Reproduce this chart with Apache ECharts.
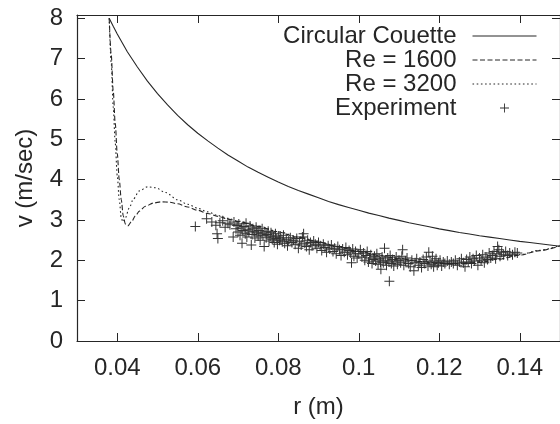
<!DOCTYPE html>
<html>
<head>
<meta charset="utf-8">
<script src="https://cdn.jsdelivr.net/npm/echarts@6/dist/echarts.min.js"></script>
<style>html,body{margin:0;padding:0;background:#fff}#c{width:560px;height:424px}</style>
</head>
<body>
<div id="c"></div>
<script>
// ---- data ----
var xTicks = [0.04, 0.06, 0.08, 0.1, 0.12, 0.14];
var yTicks = [0, 1, 2, 3, 4, 5, 6, 7, 8];

var rCouette = [0.038,0.039,0.040,0.0425,0.045,0.0475,0.05,0.0525,0.055,0.0575,0.06,0.0625,0.065,0.0675,0.07,0.0725,0.075,0.0775,0.08,0.0825,0.085,0.0875,0.09,0.0925,0.095,0.0975,0.1,0.1025,0.105,0.1075,0.11,0.1125,0.115,0.1175,0.12,0.1225,0.125,0.1275,0.13,0.1325,0.135,0.1375,0.14,0.1425,0.145,0.1475,0.15];
var vCouette = [8.00,7.80,7.61,7.17,6.79,6.44,6.13,5.85,5.59,5.36,5.15,4.96,4.78,4.61,4.46,4.31,4.18,4.06,3.94,3.83,3.73,3.64,3.55,3.46,3.38,3.31,3.24,3.17,3.11,3.045,2.99,2.93,2.88,2.83,2.78,2.735,2.69,2.65,2.61,2.575,2.54,2.505,2.47,2.44,2.41,2.38,2.35];

var r1600 = [0.038,0.0385,0.039,0.0395,0.040,0.0405,0.041,0.0415,0.042,0.0426,0.0435,0.0445,0.0455,0.047,0.049,0.051,0.053,0.055,0.0575,0.06,0.0625,0.065,0.0675,0.07,0.075,0.08,0.085,0.09,0.095,0.1,0.105,0.11,0.115,0.12,0.125,0.13,0.135,0.14,0.145,0.15];
var v1600 = [8.0,7.1,6.2,5.4,4.65,4.0,3.5,3.1,2.9,2.85,2.95,3.1,3.22,3.34,3.42,3.45,3.44,3.4,3.32,3.24,3.16,3.09,3.02,2.96,2.84,2.7,2.57,2.45,2.33,2.22,2.12,2.04,1.97,1.92,1.91,1.95,2.03,2.13,2.24,2.36];

var r3200 = [0.038,0.0385,0.039,0.0395,0.040,0.0405,0.041,0.0414,0.042,0.043,0.044,0.0455,0.0475,0.0495,0.052,0.055,0.0575,0.06,0.0625,0.065,0.0675,0.07,0.075,0.08,0.085,0.09,0.095,0.1,0.105,0.11,0.115,0.12,0.125,0.13,0.135,0.14,0.145,0.15];
var v3200 = [8.0,6.9,5.8,4.9,4.1,3.5,3.05,2.95,3.05,3.3,3.52,3.72,3.82,3.8,3.68,3.5,3.39,3.29,3.2,3.11,3.04,2.97,2.85,2.71,2.58,2.46,2.34,2.23,2.13,2.05,1.98,1.93,1.92,1.96,2.04,2.14,2.25,2.37];

var expR = [0.0594,0.0622,0.0635,0.0645,0.0648,0.0650,0.0655,0.0662,0.0668,0.0675,0.0680,0.0688,0.0690,0.0695,0.0698,
0.0700,0.0702,0.0705,0.0708,0.0710,0.0712,0.0715,0.0718,0.0720,0.0722,0.0725,0.0727,0.0730,0.0733,0.0735,0.0737,0.0740,0.0742,0.0745,0.0747,0.0750,0.0752,0.0755,0.0757,0.0760,0.0762,0.0765,0.0767,0.0770,0.0772,0.0775,0.0777,0.0780,0.0782,0.0785,0.0788,0.0790,0.0793,0.0795,0.0798,0.0800,0.0803,0.0806,0.0810,0.0813,0.0816,0.0820,0.0823,0.0826,
0.0830,0.0834,0.0838,0.0842,0.0846,0.0850,0.0853,0.0857,0.0860,0.0863,0.0866,0.0870,0.0873,0.0877,0.0880,0.0884,0.0888,0.0892,0.0896,0.0900,0.0904,0.0908,0.0912,0.0916,0.0920,0.0924,0.0928,0.0932,
0.0936,0.0940,0.0944,0.0948,0.0952,0.0956,0.0960,0.0964,0.0968,0.0972,0.0976,0.0980,0.0982,0.0985,0.0988,0.0992,0.0996,0.1000,0.1004,0.1008,
0.1012,0.1015,0.1018,0.1021,0.1024,0.1027,0.1030,0.1033,0.1036,0.1039,0.1042,0.1045,0.1048,0.1051,0.1054,0.1055,0.1058,0.1061,0.1064,0.1066,0.1069,0.1072,0.1075,0.1076,0.1078,0.1081,0.1084,0.1087,0.1090,0.1093,0.1096,
0.1100,0.1104,0.1107,0.1109,0.1112,0.1116,0.1120,0.1124,0.1128,0.1132,0.1137,0.1140,0.1144,0.1148,0.1152,0.1156,0.1160,0.1164,0.1168,0.1172,0.1174,0.1177,0.1180,0.1183,0.1186,0.1189,0.1192,0.1195,0.1198,0.1202,0.1206,0.1210,0.1214,
0.1220,0.1225,0.1230,0.1235,0.1240,0.1245,0.1250,0.1255,0.1260,0.1264,0.1268,0.1272,0.1276,0.1280,0.1284,0.1288,0.1292,0.1296,0.1300,0.1304,0.1308,0.1312,0.1316,0.1320,0.1324,0.1328,0.1332,0.1336,0.1340,
0.1343,0.1345,0.1348,0.1351,0.1355,0.1360,0.1365,0.1370,0.1375,0.1382,0.1388,0.1394];
var expV = [2.84,3.03,2.95,2.87,2.66,2.54,2.93,2.98,2.82,2.92,2.88,2.58,2.95,2.78,2.86,
2.70,2.90,2.62,2.80,2.42,2.74,2.84,2.66,2.92,2.58,2.76,2.70,2.85,2.38,2.64,2.78,2.72,2.55,2.82,2.68,2.60,2.74,2.50,2.66,2.78,2.62,2.34,2.70,2.56,2.64,2.72,2.48,2.60,2.68,2.52,2.58,2.44,2.66,2.54,2.40,2.60,2.50,2.56,2.46,2.62,2.42,2.52,2.36,2.48,
2.56,2.44,2.50,2.40,2.54,2.30,2.46,2.38,2.58,2.66,2.42,2.34,2.50,2.26,2.44,2.36,2.48,2.40,2.30,2.44,2.36,2.24,2.40,2.32,2.20,2.36,2.28,2.38,
2.22,2.30,2.16,2.34,2.26,2.12,2.28,2.20,2.32,2.14,2.24,2.18,1.94,2.28,2.10,2.22,2.06,2.16,2.26,2.08,
2.18,2.00,2.12,2.22,1.96,2.06,2.14,1.92,2.02,2.10,1.98,2.16,1.90,2.04,1.96,1.78,2.08,1.94,2.30,2.00,1.88,2.06,1.96,1.48,2.12,1.92,2.02,1.86,1.98,2.08,1.90,
2.00,1.94,2.10,2.26,1.88,1.98,2.06,1.92,1.84,2.00,1.74,1.94,2.04,1.88,1.96,1.82,2.02,1.92,2.08,1.86,2.20,1.98,1.90,2.10,1.84,1.96,2.04,1.88,1.94,2.00,1.86,1.96,1.92,
1.98,1.90,1.96,1.92,2.00,1.88,1.96,2.04,1.94,1.84,2.02,1.96,2.08,1.92,2.04,1.98,2.12,1.88,2.06,2.00,2.14,1.94,2.08,2.02,2.18,2.06,2.12,2.22,2.04,
2.16,2.34,2.26,2.10,2.20,2.14,2.22,2.12,2.18,2.14,2.20,2.18];

function pairs(xs, ys) { return xs.map(function (x, i) { return [x, ys[i]]; }); }

var ink = '#262626';
var font = 'Liberation Sans, Arial, Helvetica, sans-serif';
var plus = 'path://M9,0h2v9h9v2h-9v9h-2v-9h-9v-2h9z';
var FS = 24;

var chart = echarts.init(document.getElementById('c'), null, { renderer: 'canvas' });

var axisCommon = {
  type: 'value',
  axisLine: { show: true, onZero: false, lineStyle: { color: ink, width: 1.2 } },
  splitLine: { show: false }
};

var dash1600 = [5, 2.5];
var dot3200 = [1.6, 2.6];

chart.setOption({
  animation: false,
  backgroundColor: '#fff',
  textStyle: { fontFamily: font, color: ink },
  grid: { left: 77, top: 15, width: 490, height: 336, containLabel: false },
  xAxis: [
    Object.assign({}, axisCommon, {
      position: 'bottom', min: 0.03, max: 0.15,
      axisTick: { show: true, inside: true, length: 8, customValues: xTicks, lineStyle: { color: ink } },
      axisLabel: { show: true, customValues: xTicks, margin: 15, fontSize: FS, color: ink, fontFamily: font },
      name: 'r (m)', nameLocation: 'middle', nameGap: 54,
      nameTextStyle: { fontSize: FS, color: ink, fontFamily: font }
    }),
    Object.assign({}, axisCommon, {
      position: 'top', min: 0.03, max: 0.15,
      axisTick: { show: true, inside: true, length: 8, customValues: xTicks, lineStyle: { color: ink } },
      axisLabel: { show: false }
    })
  ],
  yAxis: [
    Object.assign({}, axisCommon, {
      position: 'left', min: 0, max: 8.08,
      axisTick: { show: true, inside: true, length: 8, customValues: yTicks, lineStyle: { color: ink } },
      axisLabel: { show: true, customValues: yTicks, margin: 14, fontSize: FS, color: ink, fontFamily: font },
      name: 'v (m/sec)', nameLocation: 'middle', nameGap: 40,
      nameTextStyle: { fontSize: FS, color: ink, fontFamily: font }
    }),
    Object.assign({}, axisCommon, {
      position: 'right', min: 0, max: 8.08,
      axisTick: { show: true, inside: true, length: 8, customValues: yTicks, lineStyle: { color: ink } },
      axisLabel: { show: false }
    })
  ],
  legend: {
    orient: 'vertical', right: 23, top: 24, align: 'right', padding: 0,
    itemWidth: 64, itemHeight: 9, itemGap: 0,
    textStyle: { fontSize: FS, lineHeight: 24, color: ink, fontFamily: font, padding: [0, 11, 0, 0] },
    data: [
      { name: 'Circular Couette', itemStyle: { opacity: 0 }, lineStyle: { width: 1, color: ink, type: 'solid' } },
      { name: 'Re = 1600', itemStyle: { opacity: 0 }, lineStyle: { width: 1, color: ink, type: dash1600 } },
      { name: 'Re = 3200', itemStyle: { opacity: 0 }, lineStyle: { width: 1, color: ink, type: dot3200 } },
      { name: 'Experiment' }
    ]
  },
  series: [
    {
      name: 'Circular Couette', type: 'line', data: pairs(rCouette, vCouette),
      symbol: 'none', smooth: false,
      lineStyle: { color: ink, width: 1.1 }, itemStyle: { color: ink }, z: 3
    },
    {
      name: 'Re = 1600', type: 'line', data: pairs(r1600, v1600),
      symbol: 'none', smooth: 0.3, smoothMonotone: 'x',
      lineStyle: { color: ink, width: 1.1, type: dash1600 }, itemStyle: { color: ink }, z: 3
    },
    {
      name: 'Re = 3200', type: 'line', data: pairs(r3200, v3200),
      symbol: 'none', smooth: 0.3, smoothMonotone: 'x',
      lineStyle: { color: ink, width: 1.1, type: dot3200 }, itemStyle: { color: ink }, z: 3
    },
    {
      name: 'Experiment', type: 'scatter', data: pairs(expR, expV),
      symbol: plus, symbolSize: 10, itemStyle: { color: '#333', opacity: 1 }, z: 2
    }
  ]
});
</script>
</body>
</html>
